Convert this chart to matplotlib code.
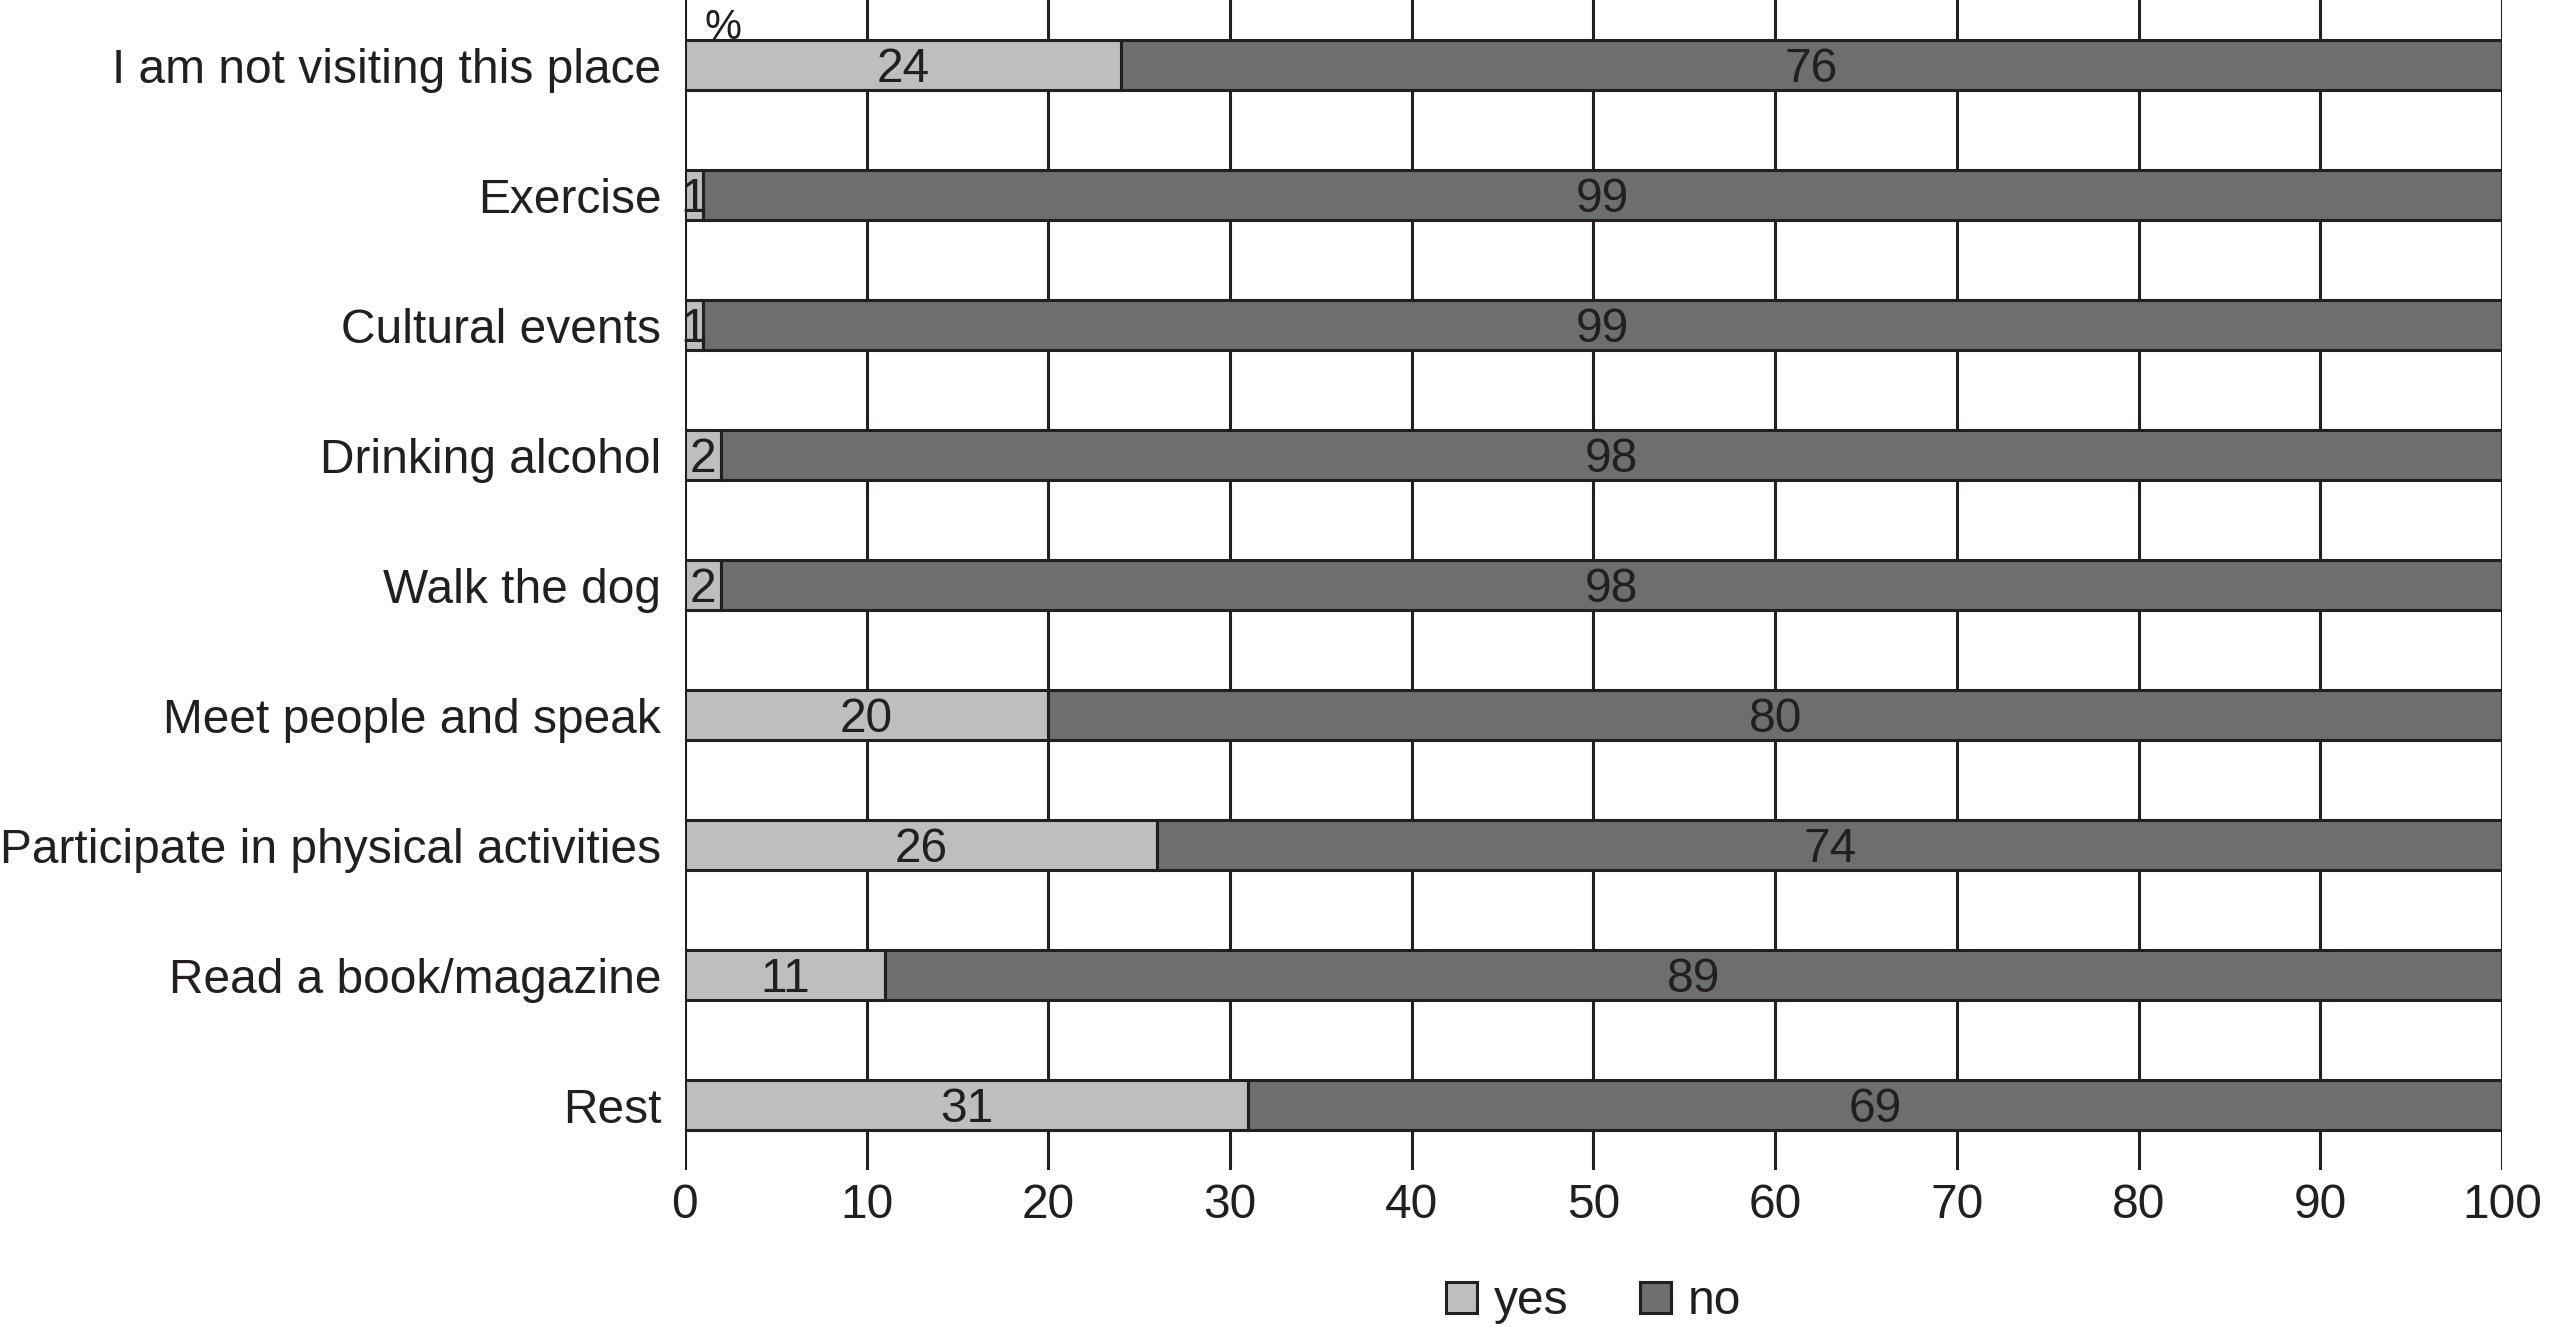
import matplotlib.pyplot as plt
from matplotlib.patches import Patch

plt.rcParams['font.family'] = ['Liberation Sans', 'DejaVu Sans']

# data
categories = ['I am not visiting this place', 'Exercise', 'Cultural events',
              'Drinking alcohol', 'Walk the dog', 'Meet people and speak',
              'Participate in physical activities', 'Read a book/magazine', 'Rest']
yes = [24, 1, 1, 2, 2, 20, 26, 11, 31]
no = [76, 99, 99, 98, 98, 80, 74, 89, 69]
xticks = [0, 10, 20, 30, 40, 50, 60, 70, 80, 90, 100]

c_yes = '#bdbec0'
c_no = '#6d6e70'
ink = '#231f20'
fs = 34.5

fig = plt.figure(figsize=(25.5, 13.27), dpi=100)
ax = fig.add_axes([0.2686, 0.1183, 0.7126, 0.8817])

ypos = list(range(len(categories)))
ax.barh(ypos, yes, height=0.39, color=c_yes, edgecolor=ink, linewidth=2.2, zorder=3)
ax.barh(ypos, no, left=yes, height=0.39, color=c_no, edgecolor=ink, linewidth=2.2, zorder=3)

# value labels, digits centred on the bar (baseline shifted down by half a cap height)
for i in ypos:
    ax.text(yes[i] / 2, i + 0.13, str(yes[i]), ha='center', va='baseline',
            fontsize=fs, color=ink, zorder=4)
    ax.text(yes[i] + no[i] / 2, i + 0.13, str(no[i]), ha='center', va='baseline',
            fontsize=fs, color=ink, zorder=4)

ax.set_xlim(0, 100)
ax.set_ylim(len(categories) - 0.5, -0.5)
ax.set_xticks(xticks)
ax.set_yticks(ypos)
ax.set_yticklabels(categories)
ax.grid(axis='x', color=ink, linewidth=2.2, zorder=0)
ax.set_axisbelow(True)
ax.tick_params(axis='both', length=0, labelsize=fs, labelcolor=ink)
ax.tick_params(axis='x', pad=9)
ax.tick_params(axis='y', pad=17)
for s in ax.spines.values():
    s.set_visible(False)

ax.text(1.1, -0.2, '%', ha='left', va='baseline', fontsize=30, color=ink)

handles = [Patch(facecolor=c_yes, edgecolor=ink, linewidth=2.2, label='yes'),
           Patch(facecolor=c_no, edgecolor=ink, linewidth=2.2, label='no')]
fig.legend(handles=handles, loc='center', bbox_to_anchor=(0.625, 0.019),
           ncol=2, frameon=False, fontsize=fs, handlelength=0.64, handleheight=0.64,
           handletextpad=0.35, columnspacing=1.5, labelcolor=ink)

fig.savefig('out.png', dpi=100)
